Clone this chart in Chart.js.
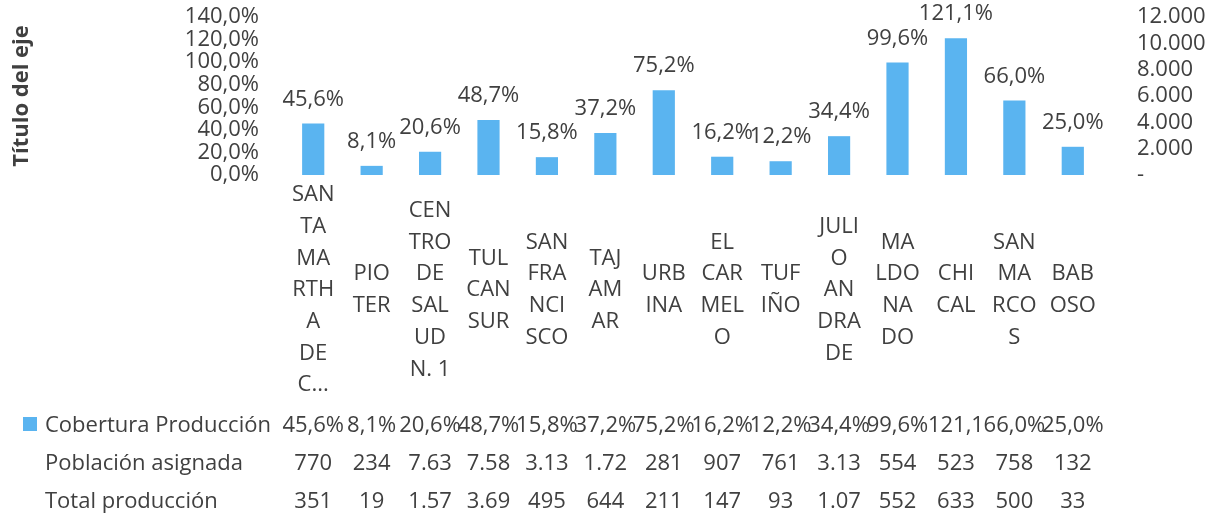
<!DOCTYPE html>
<html>
<head>
<meta charset="utf-8">
<script src="https://cdn.jsdelivr.net/npm/chart.js@4.4.0/dist/chart.umd.min.js"></script>
<style>
  html, body { margin: 0; padding: 0; background: #ffffff; }
  #wrap { width: 1217px; height: 522px; position: relative; }
</style>
</head>
<body>
<div id="wrap"><canvas id="c"></canvas></div>
<script>
// ---- Data ----
const categorias = [
  ["SAN","TA","MA","RTH","A","DE","C..."],
  ["PIO","TER"],
  ["CEN","TRO","DE","SAL","UD","N. 1"],
  ["TUL","CAN","SUR"],
  ["SAN","FRA","NCI","SCO"],
  ["TAJ","AM","AR"],
  ["URB","INA"],
  ["EL","CAR","MEL","O"],
  ["TUF","IÑO"],
  ["JULI","O","AN","DRA","DE"],
  ["MA","LDO","NA","DO"],
  ["CHI","CAL"],
  ["SAN","MA","RCO","S"],
  ["BAB","OSO"]
];
const coberturaProduccion = [45.6, 8.1, 20.6, 48.7, 15.8, 37.2, 75.2, 16.2, 12.2, 34.4, 99.6, 121.1, 66.0, 25.0];
const coberturaTabla = ["45,6%","8,1%","20,6%","48,7%","15,8%","37,2%","75,2%","16,2%","12,2%","34,4%","99,6%","121,1","66,0%","25,0%"];
const poblacionAsignada = ["770","234","7.63","7.58","3.13","1.72","281","907","761","3.13","554","523","758","132"];
const totalProduccion = ["351","19","1.57","3.69","495","644","211","147","93","1.07","552","633","500","33"];
const filasTabla = ["Cobertura Producción", "Población asignada", "Total producción"];
const tituloEje = "Título del eje";
const ticksIzq = [0, 20, 40, 60, 80, 100, 120, 140];
const ticksDer = [0, 2000, 4000, 6000, 8000, 10000, 12000];

// ---- Styles ----
const FONT = "'Open Sans', 'DejaVu Sans', sans-serif";
const TEXT = '#404040';
const BAR = '#5AB4F0';

const fmtPct = v => v.toFixed(1).replace('.', ',') + '%';
const fmtMiles = v => v === 0 ? '-' : String(v).replace(/\B(?=(\d{3})+(?!\d))/g, '.');

const dataLabels = {
  id: 'dataLabels',
  afterDatasetsDraw(chart) {
    const ctx = chart.ctx;
    const meta = chart.getDatasetMeta(0);
    ctx.save();
    ctx.font = '22px ' + FONT;
    ctx.fillStyle = TEXT;
    ctx.textAlign = 'center';
    ctx.textBaseline = 'alphabetic';
    meta.data.forEach((bar, i) => {
      ctx.fillText(fmtPct(coberturaProduccion[i]), bar.x, bar.y - 18);
    });
    ctx.restore();
  }
};

const dataTable = {
  id: 'dataTable',
  afterDraw(chart) {
    const ctx = chart.ctx;
    const xs = chart.scales.x;
    const rows = [coberturaTabla, poblacionAsignada, totalProduccion];
    const baselines = [432, 470, 508];
    ctx.save();
    ctx.font = '22px ' + FONT;
    ctx.fillStyle = TEXT;
    ctx.textBaseline = 'alphabetic';
    rows.forEach((row, r) => {
      ctx.textAlign = 'left';
      ctx.fillText(filasTabla[r], 45, baselines[r]);
      ctx.textAlign = 'center';
      row.forEach((txt, i) => {
        ctx.fillText(txt, xs.getPixelForValue(i), baselines[r]);
      });
    });
    ctx.fillStyle = BAR;
    ctx.fillRect(23, 417, 14, 14);
    ctx.restore();
  }
};

new Chart(document.getElementById('c'), {
  type: 'bar',
  data: {
    labels: categorias,
    datasets: [{
      label: filasTabla[0],
      data: coberturaProduccion,
      backgroundColor: BAR,
      yAxisID: 'y',
      barPercentage: 0.38,
      categoryPercentage: 1.0
    }]
  },
  options: {
    responsive: true,
    maintainAspectRatio: false,
    animation: false,
    layout: { padding: { top: 17, left: 0, right: 0, bottom: 0 } },
    plugins: { legend: { display: false }, tooltip: { enabled: false } },
    scales: {
      x: {
        grid: { display: false, drawTicks: true, tickLength: 20 },
        border: { display: false },
        ticks: {
          autoSkip: false, maxRotation: 0, minRotation: 0,
          crossAlign: 'center',
          padding: 0,
          color: TEXT,
          font: { family: FONT, size: 22, lineHeight: 1.44 }
        },
        afterFit(s) { s.height = 347; }
      },
      y: {
        position: 'left',
        min: 0, max: 140,
        afterBuildTicks(s) { s.ticks = ticksIzq.map(v => ({ value: v })); },
        grid: { display: false, drawTicks: true, tickLength: 25 },
        border: { display: false },
        ticks: {
          autoSkip: false, padding: 0, color: TEXT,
          font: { family: FONT, size: 22, lineHeight: 1.0 },
          callback: v => fmtPct(v)
        },
        title: {
          display: true, text: tituloEje, color: TEXT,
          font: { family: FONT, size: 22, weight: 'bold', lineHeight: 1.2 },
          padding: { top: 9, bottom: 0 }
        },
        afterFit(s) { s.width = 284; }
      },
      y1: {
        position: 'right',
        display: true,
        min: 0, max: 12000,
        afterBuildTicks(s) { s.ticks = ticksDer.map(v => ({ value: v })); },
        grid: { display: false, drawTicks: true, tickLength: 35 },
        border: { display: false },
        ticks: {
          autoSkip: false, padding: 0, color: TEXT,
          font: { family: FONT, size: 22, lineHeight: 1.0 },
          callback: v => fmtMiles(v)
        },
        afterFit(s) { s.width = 115; }
      }
    }
  },
  plugins: [dataLabels, dataTable]
});
</script>
</body>
</html>
